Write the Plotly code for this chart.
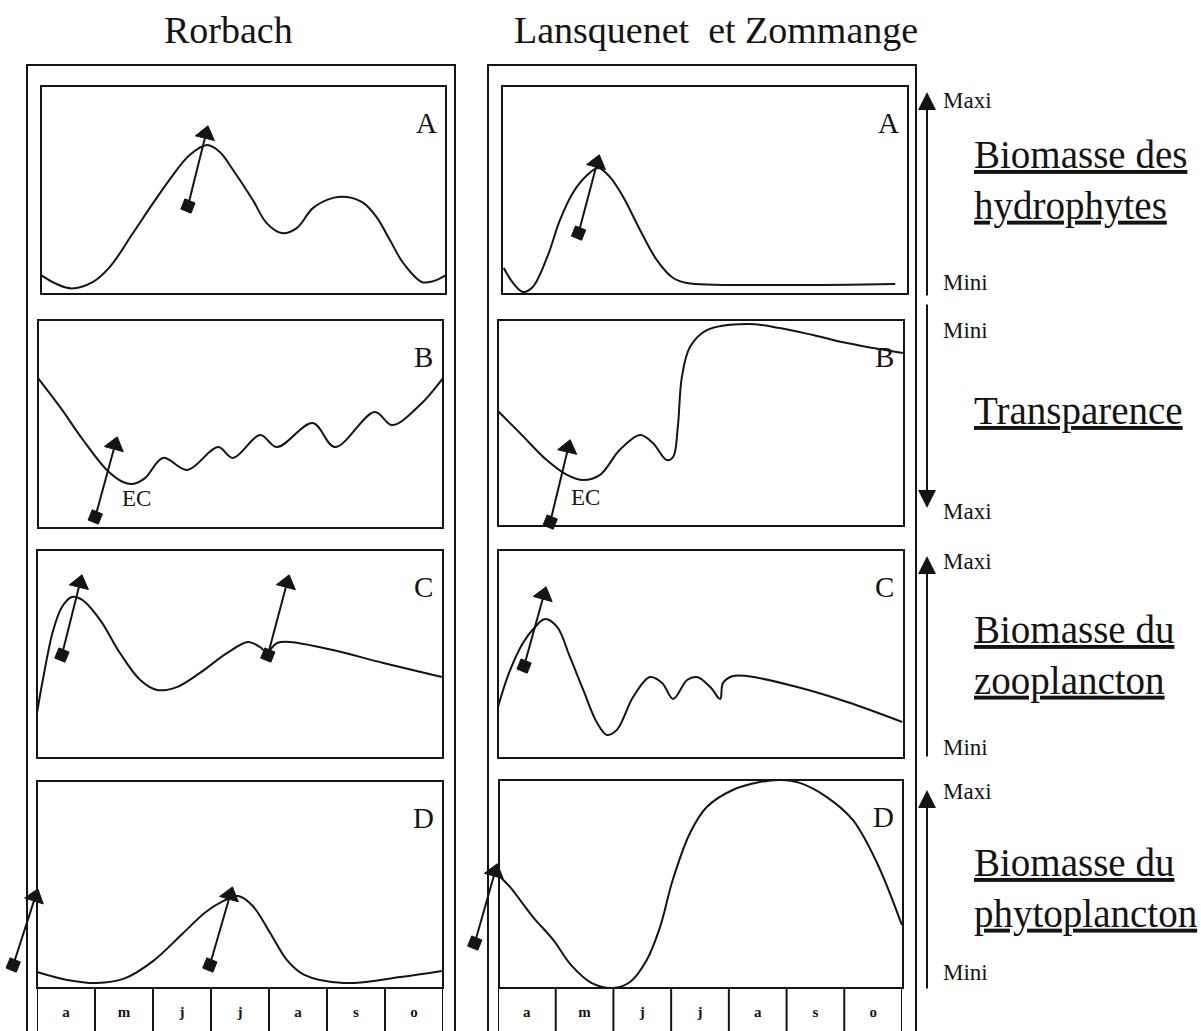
import plotly.graph_objects as go

W, H = 1201, 1031
INK = "#141414"
SERIF = "Liberation Serif, Times New Roman, serif"

# ---------------- text content ----------------
site_titles = ["Rorbach", "Lansquenet\u00a0\u00a0et Zommange"]
panel_letters = ["A", "B", "C", "D"]
months = ["a", "m", "j", "j", "a", "s", "o"]
variable_titles = ["Biomasse des<br>hydrophytes", "Transparence",
                   "Biomasse du<br>zooplancton", "Biomasse du<br>phytoplancton"]
scale_top = ["Maxi", "Mini", "Maxi", "Maxi"]
scale_bottom = ["Mini", "Maxi", "Mini", "Mini"]
ec_label = "EC"

# ---------------- data (x = months a..o -> 0..7, y = relative level 0..100) ----------------
# Rorbach
rorbach_A_x = [0.0, 0.27, 0.53, 0.9, 1.19, 1.59, 1.94, 2.28, 2.57, 2.87, 3.09, 3.32, 3.66, 3.90,
               4.16, 4.42, 4.70, 5.05, 5.29, 5.57, 5.80, 6.03, 6.26, 6.58, 6.78, 7.0]
rorbach_A_y = [9.1, 4.8, 2.7, 5.8, 13.0, 29.3, 43.8, 57.2, 66.8, 71.6, 68.3, 59.6, 45.2, 34.1,
               29.3, 31.7, 41.3, 46.2, 46.6, 43.8, 37.0, 26.0, 14.9, 5.8, 6.2, 9.1]
rorbach_B_x = [0.0, 0.38, 0.78, 1.19, 1.47, 1.64, 1.85, 2.16, 2.58, 3.11, 3.37, 3.84, 4.13,
               4.75, 5.13, 5.82, 6.12, 6.60, 7.0]
rorbach_B_y = [72.1, 58.2, 42.3, 27.9, 22.1, 21.2, 24.0, 33.7, 27.9, 38.9, 33.7, 44.7, 38.9,
               50.5, 38.9, 55.8, 49.5, 59.1, 72.1]
rorbach_C_x = [0.0, 0.1, 0.28, 0.43, 0.6, 0.78, 1.09, 1.43, 1.78, 2.07, 2.41, 2.81, 3.28, 3.64,
               3.84, 3.96, 4.14, 4.36, 5.1, 5.97, 6.98]
rorbach_C_y = [21.6, 37.5, 61.5, 72.6, 77.4, 76.0, 66.3, 50.5, 37.5, 32.7, 34.1, 40.9, 50.5, 55.8,
               53.4, 51.0, 55.3, 55.8, 51.9, 45.7, 38.9]
rorbach_D_x = [0.0, 0.52, 1.03, 1.5, 2.0, 2.5, 2.9, 3.21, 3.47, 3.72, 4.02, 4.31, 4.6,
               5.29, 6.27, 6.98]
rorbach_D_y = [7.7, 3.9, 2.4, 4.5, 13.0, 26.0, 36.5, 42.0, 44.4, 39.6, 26.6, 13.5, 6.5,
               2.4, 5.3, 8.2]

# Lansquenet et Zommange
lansq_A_x = [0.03, 0.19, 0.36, 0.53, 0.78, 1.0, 1.22, 1.47, 1.66, 1.86, 2.09, 2.38, 2.67, 2.95,
             3.19, 4.79, 6.78]
lansq_A_y = [12.5, 5.3, 1.0, 3.4, 17.8, 35.6, 48.6, 57.2, 60.6, 56.3, 46.6, 30.8, 16.3, 7.7,
             5.3, 4.3, 4.8]
lansq_B_x = [0.0, 0.38, 0.84, 1.19, 1.47, 1.76, 2.1, 2.45, 2.67, 2.91, 3.02, 3.1, 3.17, 3.31,
             3.6, 4.29, 4.86, 5.43, 6.01, 6.47, 6.98]
lansq_B_y = [55.8, 45.1, 32.0, 24.8, 22.3, 24.8, 37.0, 44.2, 40.3, 32.0, 33.5, 48.1, 72.3, 86.9,
             95.1, 98.1, 96.1, 92.7, 88.8, 86.4, 84.0]
lansq_C_x = [0.0, 0.19, 0.43, 0.64, 0.81, 1.02, 1.24, 1.47, 1.71, 1.88, 2.05, 2.33, 2.62, 2.83,
             3.02, 3.26, 3.43, 3.66, 3.83, 3.88, 4.05, 4.29, 5.16, 6.02, 6.97]
lansq_C_y = [24.5, 40.9, 55.3, 63.0, 66.8, 63.0, 48.6, 32.7, 16.8, 11.1, 13.5, 29.3, 38.9, 36.1,
             28.4, 37.5, 38.9, 34.1, 28.4, 36.1, 39.4, 39.4, 34.1, 26.9, 17.3]
lansq_D_x = [0.0, 0.19, 0.59, 0.94, 1.25, 1.6, 1.97, 2.27, 2.56, 2.79, 3.01, 3.31, 3.6, 4.05,
             4.52, 4.87, 5.21, 5.68, 6.13, 6.55, 6.98]
lansq_D_y = [54.0, 48.6, 34.1, 23.1, 11.0, 2.5, 0.0, 2.9, 13.5, 29.3, 51.9, 74.5, 87.0, 95.2,
             99.0, 100.0, 98.6, 91.8, 80.8, 60.1, 30.3]

# arrows: (tail_x, tail_y, head_x, head_y)
rorbach_arrows = {
    "A": [(2.54, 42.3, 2.85, 76.9)],
    "B": [(0.99, 5.3, 1.33, 39.9)],
    "C": [(0.43, 49.5, 0.74, 84.1), (3.98, 49.5, 4.31, 84.1)],
    "D": [(-0.41, 11.1, -0.03, 44.0), (2.98, 11.1, 3.33, 44.9)],
}
lansq_arrows = {
    "A": [(1.32, 29.3, 1.64, 63.0)],
    "B": [(0.90, 1.9, 1.21, 37.9)],
    "C": [(0.45, 44.2, 0.79, 78.4)],
    "D": [(-0.42, 21.6, -0.07, 55.8)],
}
ec_pos = {"rorbach": (1.71, 14.4), "lansq": (1.50, 13.6)}

series = {
    ("rorbach", "A"): (rorbach_A_x, rorbach_A_y),
    ("rorbach", "B"): (rorbach_B_x, rorbach_B_y),
    ("rorbach", "C"): (rorbach_C_x, rorbach_C_y),
    ("rorbach", "D"): (rorbach_D_x, rorbach_D_y),
    ("lansq", "A"): (lansq_A_x, lansq_A_y),
    ("lansq", "B"): (lansq_B_x, lansq_B_y),
    ("lansq", "C"): (lansq_C_x, lansq_C_y),
    ("lansq", "D"): (lansq_D_x, lansq_D_y),
}
arrows = {"rorbach": rorbach_arrows, "lansq": lansq_arrows}

# ---------------- layout geometry (pixels) ----------------
frames = {
    ("rorbach", "A"): (41, 446, 86, 294),
    ("rorbach", "B"): (38, 443, 320, 528),
    ("rorbach", "C"): (37, 443, 550, 758),
    ("rorbach", "D"): (37, 443, 781, 988),
    ("lansq", "A"): (502, 908, 86, 294),
    ("lansq", "B"): (498, 904, 320, 526),
    ("lansq", "C"): (498, 904, 550, 758),
    ("lansq", "D"): (499, 903, 780, 988),
}
month_rows = {"rorbach": (37, 443, 988), "lansq": (498, 902, 988)}
outer = {"rorbach": (27, 455, 65), "lansq": (488, 916, 65)}
title_x = {"rorbach": 228, "lansq": 716}

PADL, PADR, PADT, PADB = 34, 12, 6, 6

fig = go.Figure()
layout = dict(width=W, height=H, margin=dict(l=0, r=0, t=0, b=0), autosize=False,
              paper_bgcolor="white", plot_bgcolor="rgba(0,0,0,0)", showlegend=False)
shapes, annotations = [], []

def px2paper_x(p):
    return p / W

def px2paper_y(p):
    return 1 - p / H

n = 0
for site in ["rorbach", "lansq"]:
    for letter in panel_letters:
        n += 1
        L, R, T, B = frames[(site, letter)]
        kx = 7.0 / (R - L)
        ky = 100.0 / (B - T)
        xa = "x" if n == 1 else f"x{n}"
        ya = "y" if n == 1 else f"y{n}"
        layout["xaxis" if n == 1 else f"xaxis{n}"] = dict(
            domain=[px2paper_x(L - PADL), px2paper_x(R + PADR)],
            range=[-PADL * kx, 7 + PADR * kx], visible=False, anchor=ya, fixedrange=True)
        layout["yaxis" if n == 1 else f"yaxis{n}"] = dict(
            domain=[px2paper_y(B + PADB), px2paper_y(T - PADT)],
            range=[-PADB * ky, 100 + PADT * ky], visible=False, anchor=xa, fixedrange=True)
        shapes.append(dict(type="rect", xref=xa, yref=ya, x0=0, x1=7, y0=0, y1=100,
                           line=dict(color=INK, width=2), layer="above"))
        xs, ys = series[(site, letter)]
        fig.add_trace(go.Scatter(x=xs, y=ys, mode="lines", xaxis=xa, yaxis=ya,
                                 line=dict(color=INK, width=2, shape="spline", smoothing=1.0),
                                 hoverinfo="skip"))
        for (tx, ty, hx, hy) in arrows[site][letter]:
            fig.add_trace(go.Scatter(x=[tx, hx], y=[ty, hy], mode="lines+markers",
                                     xaxis=xa, yaxis=ya, cliponaxis=False,
                                     line=dict(color=INK, width=2),
                                     marker=dict(symbol=["circle", "triangle-up"], size=[0, 17],
                                                 color=INK, opacity=1, angleref="previous",
                                                 line=dict(color=INK, width=1)),
                                     hoverinfo="skip"))
            fig.add_trace(go.Scatter(x=[tx], y=[ty], mode="markers", xaxis=xa, yaxis=ya,
                                     cliponaxis=False,
                                     marker=dict(symbol="square", size=11, angle=22, color=INK,
                                                 line=dict(color=INK, width=1)),
                                     hoverinfo="skip"))
        annotations.append(dict(xref=xa, yref=ya, x=6.66, y=82, text=letter, showarrow=False,
                                xanchor="center", yanchor="middle",
                                font=dict(family=SERIF, size=29, color=INK)))
        if letter == "B":
            ex, ey = ec_pos[site]
            annotations.append(dict(xref=xa, yref=ya, x=ex, y=ey, text=ec_label, showarrow=False,
                                    xanchor="center", yanchor="middle",
                                    font=dict(family=SERIF, size=23, color=INK)))

    # month strip
    n_m = n + 100
    mL, mR, mT = month_rows[site]
    xa_m = f"x{n_m}"
    ya_m = f"y{n_m}"
    layout[f"xaxis{n_m}"] = dict(domain=[px2paper_x(mL), px2paper_x(mR)], range=[0, 7],
                                 visible=False, anchor=ya_m, fixedrange=True)
    layout[f"yaxis{n_m}"] = dict(domain=[0, px2paper_y(mT)], range=[0, 1],
                                 visible=False, anchor=xa_m, fixedrange=True)
    shapes.append(dict(type="line", xref=xa_m, yref=ya_m, x0=0, x1=7, y0=1, y1=1,
                       line=dict(color=INK, width=2)))
    for i in range(len(months) + 1):
        shapes.append(dict(type="line", xref=xa_m, yref=ya_m, x0=i, x1=i, y0=-0.1, y1=1,
                           line=dict(color=INK, width=2)))
    fig.add_trace(go.Scatter(x=[i + 0.5 for i in range(len(months))], y=[0.42] * len(months),
                             mode="text", text=[f"<b>{m}</b>" for m in months],
                             textfont=dict(family=SERIF, size=15, color=INK),
                             xaxis=xa_m, yaxis=ya_m, hoverinfo="skip"))

    # outer frame + title
    oL, oR, oT = outer[site]
    shapes.append(dict(type="rect", xref="paper", yref="paper",
                       x0=px2paper_x(oL), x1=px2paper_x(oR), y0=-0.05, y1=px2paper_y(oT),
                       line=dict(color=INK, width=2)))
    annotations.append(dict(xref="paper", yref="paper", x=px2paper_x(title_x[site]),
                            y=px2paper_y(30), xanchor="center", yanchor="middle",
                            text=site_titles[0 if site == "rorbach" else 1],
                            showarrow=False, font=dict(family=SERIF, size=38, color=INK)))

# ---------------- right-hand scale arrows and variable titles ----------------
AX = 927
arrow_spans = [(92, 297, "up"), (303, 508, "down"), (556, 758, "up"), (790, 990, "up")]
top_label_y = [101, 330, 561, 791]
bot_label_y = [282, 512, 747, 972]
title_y = [180, 411, 655, 888]
for i, (top, bot, d) in enumerate(arrow_spans):
    if d == "up":
        tip, tail = top, bot
    else:
        tip, tail = bot, top
    annotations.append(dict(xref="paper", yref="paper", x=px2paper_x(AX), y=px2paper_y(tip),
                            ax=0, ay=tail - tip, axref="pixel", ayref="pixel", text="",
                            showarrow=True, arrowhead=2, arrowsize=1.8, arrowwidth=2,
                            arrowcolor=INK, standoff=0, startstandoff=0))
    annotations.append(dict(xref="paper", yref="paper", x=px2paper_x(941), y=px2paper_y(top_label_y[i]),
                            xanchor="left", yanchor="middle", text=scale_top[i], showarrow=False,
                            font=dict(family=SERIF, size=23, color=INK)))
    annotations.append(dict(xref="paper", yref="paper", x=px2paper_x(941), y=px2paper_y(bot_label_y[i]),
                            xanchor="left", yanchor="middle", text=scale_bottom[i], showarrow=False,
                            font=dict(family=SERIF, size=23, color=INK)))
    lines = variable_titles[i].split("<br>")
    txt = "<br>".join(f"<u>{t}</u>" for t in lines)
    annotations.append(dict(xref="paper", yref="paper", x=px2paper_x(972), y=px2paper_y(title_y[i]),
                            xanchor="left", yanchor="middle", align="left", text=txt,
                            showarrow=False, font=dict(family=SERIF, size=39, color=INK)))

layout["shapes"] = shapes
layout["annotations"] = annotations
fig.update_layout(**layout)
fig.write_html("out.html", config={"displayModeBar": False},
               post_script="document.body.style.margin='0px';document.body.style.overflow='hidden';")
